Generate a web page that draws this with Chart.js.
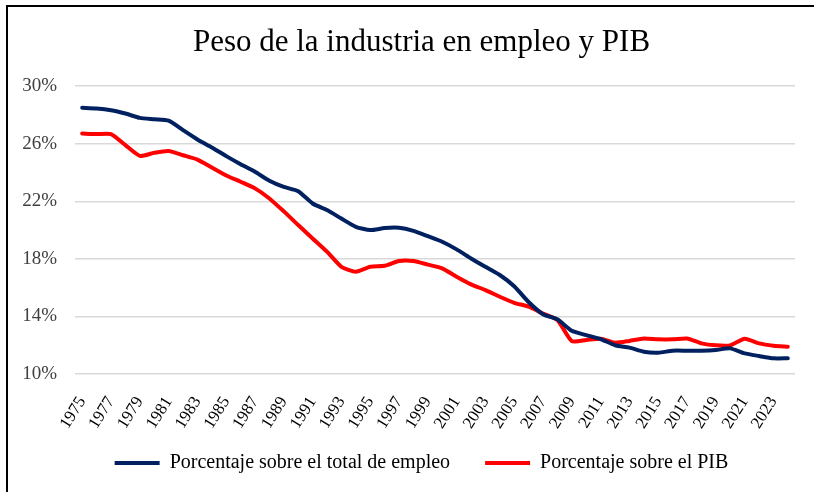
<!DOCTYPE html>
<html>
<head>
<meta charset="utf-8">
<script src="https://cdn.jsdelivr.net/npm/chart.js@4"></script>
<style>
  html, body { margin: 0; padding: 0; background: #ffffff; }
  #wrap { position: relative; width: 814px; height: 492px; }
</style>
</head>
<body>
<div id="wrap"><canvas id="c" width="814" height="492"></canvas></div>
<script>
const years = ['1975','1976','1977','1978','1979','1980','1981','1982','1983','1984',
  '1985','1986','1987','1988','1989','1990','1991','1992','1993','1994',
  '1995','1996','1997','1998','1999','2000','2001','2002','2003','2004',
  '2005','2006','2007','2008','2009','2010','2011','2012','2013','2014',
  '2015','2016','2017','2018','2019','2020','2021','2022','2023','2024'];

const empleo = [28.5, 28.45, 28.33, 28.1, 27.8, 27.7, 27.6, 26.95, 26.3, 25.74,
  25.14, 24.58, 24.05, 23.43, 23.0, 22.7, 21.85, 21.39, 20.8, 20.23,
  20.0, 20.14, 20.16, 19.95, 19.58, 19.19, 18.66, 18.03, 17.45, 16.88,
  16.1, 15.0, 14.15, 13.8, 13.0, 12.7, 12.43, 12.0, 11.83, 11.55,
  11.48, 11.62, 11.62, 11.62, 11.67, 11.78, 11.43, 11.25, 11.09, 11.09];

const pib = [26.71, 26.67, 26.67, 25.9, 25.16, 25.37, 25.49, 25.2, 24.9, 24.35,
  23.8, 23.36, 22.9, 22.2, 21.3, 20.35, 19.42, 18.5, 17.45, 17.1,
  17.45, 17.52, 17.85, 17.85, 17.6, 17.34, 16.76, 16.23, 15.83, 15.37,
  14.95, 14.68, 14.2, 13.75, 12.29, 12.36, 12.45, 12.17, 12.3, 12.47,
  12.41, 12.41, 12.47, 12.13, 11.99, 11.99, 12.45, 12.13, 11.97, 11.9];

const yTicks = [10, 14, 18, 22, 26, 30];
const seriesNames = ['Porcentaje sobre el total de empleo', 'Porcentaje sobre el PIB'];
const titleText = 'Peso de la industria en empleo y PIB';

const FONT = "'Liberation Serif', 'DejaVu Serif', serif";

const frame = {
  id: 'frame',
  afterLayout(chart) {
    // shift title and legend boxes to the right, as in the original layout
    if (chart.titleBlock) chart.titleBlock.left += 38;
    if (chart.legend) chart.legend.left += 38;
    // let the rotated year labels extend below the axis box without being clipped
    if (chart.scales.x) chart.scales.x.bottom = chart.height;
  },
  afterDraw(chart) {
    const ctx = chart.ctx;
    ctx.save();
    ctx.strokeStyle = '#000000';
    ctx.lineWidth = 2;
    ctx.beginPath();
    ctx.moveTo(6, 6);
    ctx.lineTo(814, 6);
    ctx.moveTo(7, 5);
    ctx.lineTo(7, 492);
    ctx.stroke();
    ctx.restore();
  }
};

new Chart(document.getElementById('c'), {
  type: 'line',
  data: {
    labels: years,
    datasets: [
      { label: seriesNames[0], data: empleo, borderColor: '#002060', backgroundColor: '#002060',
        borderWidth: 4, pointRadius: 0, tension: 0.2, borderCapStyle: 'round', borderJoinStyle: 'round' },
      { label: seriesNames[1], data: pib, borderColor: '#FF0000', backgroundColor: '#FF0000',
        borderWidth: 4, pointRadius: 0, tension: 0.2, borderCapStyle: 'round', borderJoinStyle: 'round' }
    ]
  },
  options: {
    responsive: false,
    animation: false,
    layout: { padding: { left: 10, right: 19, top: 8, bottom: 9 } },
    plugins: {
      title: {
        display: true, text: titleText, color: '#000000',
        font: { family: FONT, size: 31, weight: 'normal' },
        padding: { top: 16, bottom: 25 }
      },
      legend: {
        position: 'bottom',
        labels: {
          usePointStyle: true, pointStyle: 'line', pointStyleWidth: 45,
          color: '#000000', padding: 35,
          font: { family: FONT, size: 20 }
        }
      },
      tooltip: { enabled: false }
    },
    scales: {
      x: {
        offset: true,
        grid: { display: false, drawTicks: false },
        border: { display: false },
        afterFit(scale) { scale.height = 44; scale.paddingLeft = 0; scale.paddingRight = 0; },
        ticks: {
          autoSkip: false, maxRotation: 58, minRotation: 58, padding: 19,
          color: '#000000', font: { family: FONT, size: 17 },
          callback(val, idx) { return idx % 2 === 0 ? years[idx] : ''; }
        }
      },
      y: {
        min: 10, max: 30,
        afterFit(scale) { scale.width = 65; },
        afterBuildTicks(scale) { scale.ticks = yTicks.map(v => ({ value: v })); },
        grid: { color: '#d9d9d9', lineWidth: 1.5, drawTicks: false },
        border: { display: false },
        ticks: {
          padding: 18, color: '#404040', font: { family: FONT, size: 19 },
          callback(v) { return v + '%'; }
        }
      }
    }
  },
  plugins: [frame]
});
</script>
</body>
</html>
